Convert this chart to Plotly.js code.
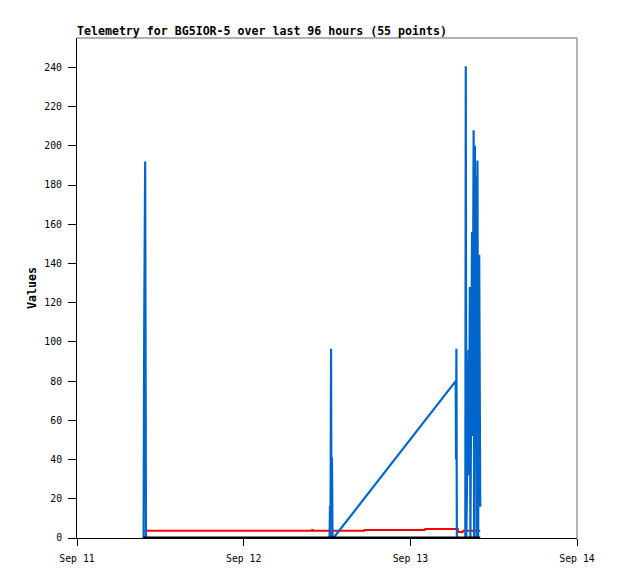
<!DOCTYPE html>
<html>
<head>
<meta charset="utf-8">
<script src="https://cdn.plot.ly/plotly-3.0.1.min.js"></script>
<style>
  html, body { margin: 0; padding: 0; background: #fff; }
  #chart { width: 618px; height: 579px; }
</style>
</head>
<body>
<div id="chart"></div>
<script>
// Blue channel
const blueTimes = [
  '2023-09-11 09:35', '2023-09-11 09:41', '2023-09-11 09:49', '2023-09-11 09:56',
  '2023-09-12 09:53',
  '2023-09-12 12:22', '2023-09-12 12:26', '2023-09-12 12:30', '2023-09-12 12:35',
  '2023-09-12 12:39', '2023-09-12 12:43', '2023-09-12 12:48', '2023-09-12 12:56',
  '2023-09-13 06:32', '2023-09-13 06:35', '2023-09-13 06:38', '2023-09-13 06:42',
  '2023-09-13 07:55', '2023-09-13 07:59', '2023-09-13 08:04', '2023-09-13 08:23',
  '2023-09-13 08:27', '2023-09-13 08:34', '2023-09-13 08:39', '2023-09-13 08:53',
  '2023-09-13 08:57', '2023-09-13 09:07', '2023-09-13 09:11', '2023-09-13 09:18',
  '2023-09-13 09:22', '2023-09-13 09:29', '2023-09-13 09:33', '2023-09-13 09:40',
  '2023-09-13 09:46', '2023-09-13 09:55', '2023-09-13 10:04'
];
const blueValues = [
  0, 112, 192, 0,
  0,
  0, 16.5, 0, 96.5,
  0, 41, 0, 0,
  80, 40, 96.5, 0,
  0, 240.6, 0, 96,
  32, 128, 0, 156,
  52, 208, 0, 200,
  88, 184.5, 0, 192.5,
  0, 144.5, 16
];

// Red channel
const redTimes = [
  '2023-09-11 09:35', '2023-09-12 09:49', '2023-09-12 09:53', '2023-09-12 09:57',
  '2023-09-12 17:20', '2023-09-12 17:24', '2023-09-13 02:05', '2023-09-13 02:09',
  '2023-09-13 06:50', '2023-09-13 06:54', '2023-09-13 07:33', '2023-09-13 07:37',
  '2023-09-13 10:04'
];
const redValues = [
  3.7, 3.7, 4.5, 3.7,
  3.7, 4.1, 4.1, 4.6,
  4.6, 3.0, 3.0, 3.7,
  3.7
];

// Black channel
const blackTimes = ['2023-09-11 09:35', '2023-09-12 12:30', '2023-09-13 06:40', '2023-09-13 10:04'];
const blackValues = [0, 0, 0, 0];

// Axis ticks
const yTickValues = [0, 20, 40, 60, 80, 100, 120, 140, 160, 180, 200, 220, 240];
const xTickValues = ['2023-09-11', '2023-09-12', '2023-09-13', '2023-09-14'];
const xTickLabels = ['Sep 11', 'Sep 12', 'Sep 13', 'Sep 14'];

const FONT = 'DejaVu Sans Mono, Liberation Mono, monospace';

const traces = [
  { x: redTimes, y: redValues, type: 'scatter', mode: 'lines',
    line: { color: '#ff0000', width: 2, simplify: false }, hoverinfo: 'skip' },
  { x: blueTimes, y: blueValues, type: 'scatter', mode: 'lines',
    line: { color: '#0066cc', width: 2.2, simplify: false }, hoverinfo: 'skip' },
  { x: blackTimes, y: blackValues, type: 'scatter', mode: 'lines',
    line: { color: '#000000', width: 3, simplify: false }, hoverinfo: 'skip' }
];

const layout = {
  width: 618, height: 579,
  margin: { l: 77, r: 41, t: 38, b: 41, pad: 0 },
  paper_bgcolor: '#ffffff', plot_bgcolor: '#ffffff',
  showlegend: false, hovermode: false,
  font: { family: FONT, size: 9.5, color: '#000' },
  title: {
    text: '<b>Telemetry for BG5IOR-5 over last 96 hours (55 points)</b>',
    xref: 'paper', x: 0, xanchor: 'left',
    yref: 'container', y: 1 - 31 / 579, yanchor: 'middle',
    font: { family: FONT, size: 11.6, color: '#000' }
  },
  xaxis: {
    type: 'date',
    range: ['2023-09-11', '2023-09-14'],
    tickmode: 'array', tickvals: xTickValues, ticktext: xTickLabels,
    showgrid: false, zeroline: false,
    showline: true, linecolor: '#000', linewidth: 1,
    ticks: 'outside', ticklen: 7, tickcolor: '#000', tickwidth: 1,
    ticklabelstandoff: 4,
    tickfont: { family: FONT, size: 9.8, color: '#000' },
    fixedrange: true
  },
  yaxis: {
    range: [0, 255],
    tickmode: 'array', tickvals: yTickValues,
    showgrid: false, zeroline: false,
    showline: true, linecolor: '#000', linewidth: 1,
    ticks: 'outside', ticklen: 8, tickcolor: '#000', tickwidth: 1,
    ticklabelstandoff: 4,
    tickfont: { family: FONT, size: 9.8, color: '#000' },
    title: { text: '<b>Values</b>', standoff: 5,
             font: { family: FONT, size: 11.6, color: '#000' } },
    fixedrange: true
  },
  shapes: [
    { type: 'line', xref: 'paper', yref: 'paper', x0: 0, x1: 1, y0: 1, y1: 1,
      line: { color: '#666666', width: 1 } },
    { type: 'line', xref: 'paper', yref: 'paper', x0: 1, x1: 1, y0: 0, y1: 1,
      line: { color: '#666666', width: 1 } }
  ]
};

Plotly.newPlot('chart', traces, layout, { staticPlot: true, displayModeBar: false });
</script>
</body>
</html>
